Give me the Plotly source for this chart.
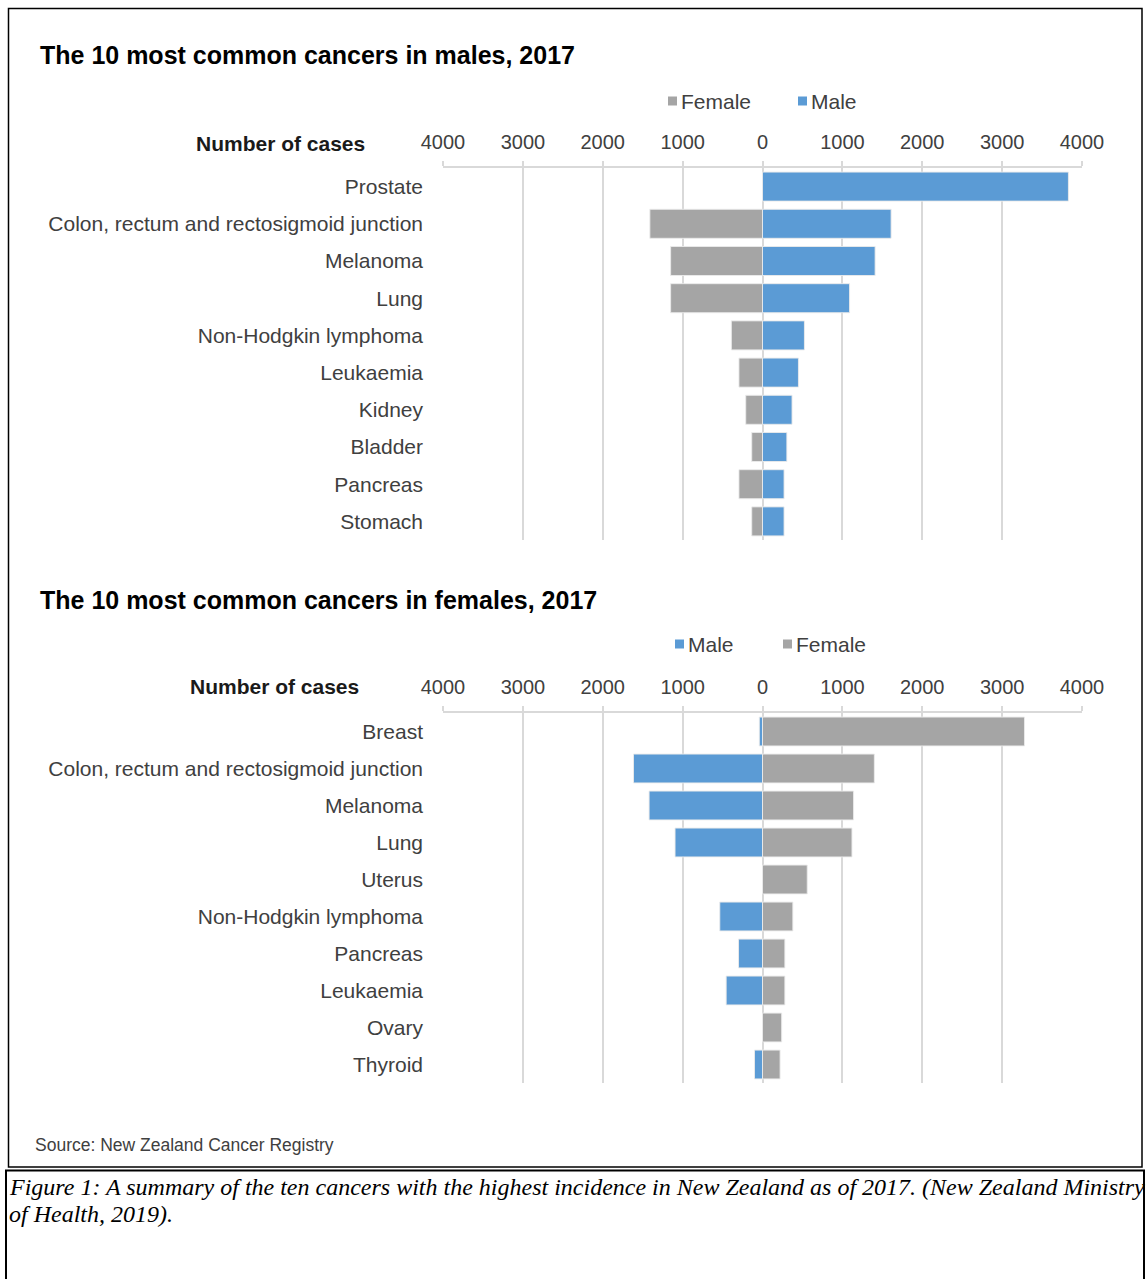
import plotly.graph_objects as go

W, H = 1146, 1279

# ---------------- data ----------------
male_chart_categories = ["Prostate", "Colon, rectum and rectosigmoid junction", "Melanoma", "Lung",
                         "Non-Hodgkin lymphoma", "Leukaemia", "Kidney", "Bladder", "Pancreas", "Stomach"]
male_chart_female = [0, 1410, 1150, 1150, 390, 295, 210, 135, 295, 135]
male_chart_male = [3830, 1610, 1410, 1090, 525, 450, 370, 305, 270, 270]

female_chart_categories = ["Breast", "Colon, rectum and rectosigmoid junction", "Melanoma", "Lung",
                           "Uterus", "Non-Hodgkin lymphoma", "Pancreas", "Leukaemia", "Ovary", "Thyroid"]
female_chart_male = [40, 1615, 1420, 1095, 0, 535, 300, 455, 0, 100]
female_chart_female = [3280, 1400, 1140, 1120, 560, 380, 280, 280, 240, 220]

tick_values = [-4000, -3000, -2000, -1000, 0, 1000, 2000, 3000, 4000]
tick_labels = ["4000", "3000", "2000", "1000", "0", "1000", "2000", "3000", "4000"]

title_male = "The 10 most common cancers in males, 2017"
title_female = "The 10 most common cancers in females, 2017"
axis_title = "Number of cases"
source_text = "Source: New Zealand Cancer Registry"
caption_lines = ["Figure 1: A summary of the ten cancers with the highest incidence in New Zealand as of 2017. (New Zealand Ministry",
                 "of Health, 2019)."]

BLUE = "#5B9BD5"
GRAY = "#A5A5A5"
GRID = "#D9D9D9"
TXT = "#404040"
SANS = "Liberation Sans, Arial, sans-serif"
SERIF = "Liberation Serif, Times New Roman, serif"


def px(x):
    return x / W


def py(y):
    return 1 - y / H


fig = go.Figure()

bar_line = dict(color="rgba(235,235,235,0.9)", width=1)

# top chart (males)
fig.add_trace(go.Bar(y=male_chart_categories, x=[-v for v in male_chart_female], orientation="h",
                     marker=dict(color=GRAY, line=bar_line), name="Female", xaxis="x", yaxis="y",
                     showlegend=False, customdata=male_chart_female,
                     hovertemplate="%{y}<br>Female: %{customdata}<extra></extra>"))
fig.add_trace(go.Bar(y=male_chart_categories, x=male_chart_male, orientation="h",
                     marker=dict(color=BLUE, line=bar_line), name="Male", xaxis="x", yaxis="y",
                     showlegend=False))
# bottom chart (females)
fig.add_trace(go.Bar(y=female_chart_categories, x=[-v for v in female_chart_male], orientation="h",
                     marker=dict(color=BLUE, line=bar_line), name="Male", xaxis="x2", yaxis="y2",
                     showlegend=False, customdata=female_chart_male,
                     hovertemplate="%{y}<br>Male: %{customdata}<extra></extra>"))
fig.add_trace(go.Bar(y=female_chart_categories, x=female_chart_female, orientation="h",
                     marker=dict(color=GRAY, line=bar_line), name="Female", xaxis="x2", yaxis="y2",
                     showlegend=False))

xdom = [px(443), px(1082)]
xaxis_common = dict(range=[-4000, 4000], tickvals=tick_values, ticktext=tick_labels, side="top",
                    showgrid=True, gridcolor=GRID, gridwidth=1.5, zeroline=False,
                    showline=True, linecolor=GRID, linewidth=1.5,
                    ticks="outside", ticklen=5, tickcolor=GRID, tickwidth=1.5,
                    tickfont=dict(family=SANS, size=20, color=TXT), ticklabelstandoff=4,
                    fixedrange=True, domain=xdom, automargin=False)
yaxis_common = dict(autorange="reversed", type="category", showgrid=False, zeroline=False,
                    showline=False, ticks="", tickfont=dict(family=SANS, size=21, color=TXT),
                    ticklabelstandoff=19, fixedrange=True, automargin=False)

fig.update_layout(
    template="none",
    width=W, height=H, margin=dict(l=0, r=0, t=0, b=0, pad=0, autoexpand=False),
    paper_bgcolor="white", plot_bgcolor="white",
    barmode="relative", bargap=0.22,
    xaxis=dict(**xaxis_common, anchor="y"),
    yaxis=dict(**yaxis_common, domain=[py(540), py(168)], anchor="x",
               categoryorder="array", categoryarray=male_chart_categories),
    xaxis2=dict(**xaxis_common, anchor="y2"),
    yaxis2=dict(**yaxis_common, domain=[py(1083), py(713)], anchor="x2",
                categoryorder="array", categoryarray=female_chart_categories),
    showlegend=False,
)

ann = []


def text(x, y, s, size, color=TXT, anchor="left", family=SANS, bold=False):
    ann.append(dict(xref="paper", yref="paper", x=px(x), y=py(y), text=("<b>%s</b>" % s) if bold else s,
                    showarrow=False, xanchor=anchor, yanchor="middle",
                    font=dict(family=family, size=size, color=color)))


text(38, 55, title_male, 25, color="#000000", bold=True)
text(38, 600, title_female, 25, color="#000000", bold=True)
text(367, 143, axis_title, 21, color="#1a1a1a", anchor="right", bold=True)
text(361, 686, axis_title, 21, color="#1a1a1a", anchor="right", bold=True)
text(33, 1145, source_text, 17.5)
text(7, 1187, "<i>%s</i>" % caption_lines[0], 24, color="#000000", family=SERIF)
text(7, 1214, "<i>%s</i>" % caption_lines[1], 24, color="#000000", family=SERIF)

shapes = []


def legend_item(xsq, y, color, label):
    shapes.append(dict(type="rect", xref="paper", yref="paper", x0=px(xsq), x1=px(xsq + 9),
                       y0=py(y + 4.5), y1=py(y - 4.5), fillcolor=color, line=dict(width=0)))
    text(xsq + 11, y, label, 21)


legend_item(668, 101, GRAY, "Female")
legend_item(798, 101, BLUE, "Male")
legend_item(675, 644, BLUE, "Male")
legend_item(783, 644, GRAY, "Female")

# frame boxes
shapes.append(dict(type="rect", xref="paper", yref="paper", x0=px(8.5), x1=px(1142), y0=py(1167), y1=py(8.5),
                   line=dict(color="#000000", width=1.5), fillcolor="rgba(0,0,0,0)"))
shapes.append(dict(type="rect", xref="paper", yref="paper", x0=px(6), x1=px(1144), y0=py(1290), y1=py(1170.5),
                   line=dict(color="#000000", width=2), fillcolor="rgba(0,0,0,0)"))

fig.update_layout(annotations=ann, shapes=shapes)

fig.write_html("out.html", config={"displayModeBar": False},
               post_script="document.body.style.margin='0';document.body.style.overflow='hidden';")
